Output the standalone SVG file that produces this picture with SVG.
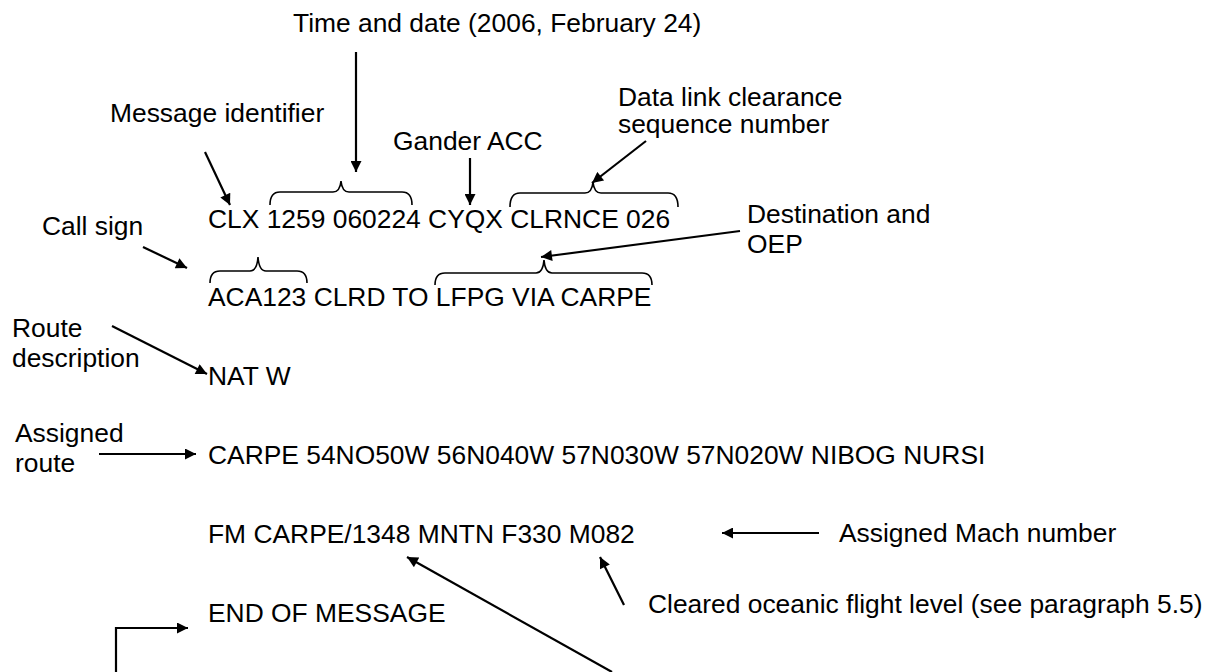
<svg xmlns="http://www.w3.org/2000/svg" width="1209" height="672" viewBox="0 0 1209 672">
<defs>
<marker id="ah" viewBox="0 0 10 10" refX="10" refY="5" markerWidth="6" markerHeight="5" markerUnits="strokeWidth" orient="auto">
<path d="M0,0 L10,5 L0,10 Z" fill="#000"/>
</marker>
<style>
text{font-family:"Liberation Sans",Arial,sans-serif;font-size:26.4px;fill:#000}
.c{fill:none;stroke:#000;stroke-width:2.2px}
.a{marker-end:url(#ah)}
.b{fill:none;stroke:#000;stroke-width:1.6px}
</style>
</defs>
<rect width="1209" height="672" fill="#fff"/>
<g id="msg-lines">
<g id="line1"><text x="208" y="228">CLX 1259 060224 CYQX CLRNCE 026</text></g>
<g id="line2"><text x="208" y="306">ACA123 CLRD TO LFPG VIA CARPE</text></g>
<g id="line3"><text x="208" y="385">NAT W</text></g>
<g id="line4"><text x="208" y="464">CARPE 54NO50W 56N040W 57N030W 57N020W NIBOG NURSI</text></g>
<g id="line5"><text x="208" y="543">FM CARPE/1348 MNTN F330 M082</text></g>
<g id="line6"><text x="208" y="622">END OF MESSAGE</text></g>
</g>
<g id="lbl-time"><text x="293" y="32">Time and date (2006, February 24)</text></g>
<g id="lbl-msgid"><text x="110" y="122">Message identifier</text></g>
<g id="lbl-gander"><text x="393" y="150">Gander ACC</text></g>
<g id="lbl-datalink"><text x="618" y="106">Data link clearance</text><text x="618" y="133">sequence number</text></g>
<g id="lbl-callsign"><text x="42" y="235">Call sign</text></g>
<g id="lbl-dest"><text x="747" y="223">Destination and</text><text x="747" y="253">OEP</text></g>
<g id="lbl-route"><text x="12" y="337">Route</text><text x="12" y="367">description</text></g>
<g id="lbl-assigned"><text x="15" y="442">Assigned</text><text x="15" y="472">route</text></g>
<g id="lbl-mach"><text x="839" y="542">Assigned Mach number</text></g>
<g id="lbl-cleared"><text x="648" y="613">Cleared oceanic flight level (see paragraph 5.5)</text></g>
<g id="braces">
<path class="b" d="M270,205 Q270,192 280,192 L333,192 Q340,192 341,181 Q342,192 349,192 L402,192 Q412,192 412,205"/>
<path class="b" d="M510,207 Q510,193 520,193 L585,193 Q592,193 593,182 Q594,193 601,193 L668,193 Q678,193 678,207"/>
<path class="b" d="M210,283 Q210,271 220,271 L250,271 Q257,271 258,257 Q259,271 266,271 L297,271 Q307,271 307,283"/>
<path class="b" d="M435,285 Q435,273 445,273 L536,273 Q543,273 544,260 Q545,273 552,273 L642,273 Q652,273 652,285"/>
</g>
<g id="connectors">
<line class="c a" x1="356" y1="52" x2="356" y2="172"/>
<line class="c a" x1="205" y1="152" x2="230" y2="205"/>
<line class="c a" x1="470" y1="158" x2="470" y2="205"/>
<line class="c a" x1="646" y1="141" x2="592" y2="183"/>
<line class="c a" x1="143" y1="247" x2="187" y2="268"/>
<line class="c a" x1="740" y1="231" x2="541" y2="257"/>
<line class="c a" x1="112" y1="326" x2="207" y2="374"/>
<line class="c a" x1="99" y1="454" x2="196" y2="454"/>
<line class="c a" x1="819" y1="533" x2="722" y2="533"/>
<line class="c a" x1="624" y1="605" x2="600" y2="557"/>
<line class="c a" x1="612" y1="672" x2="407" y2="557"/>
<polyline class="c a" points="116,672 116,628 188,628"/>
</g>
</svg>
